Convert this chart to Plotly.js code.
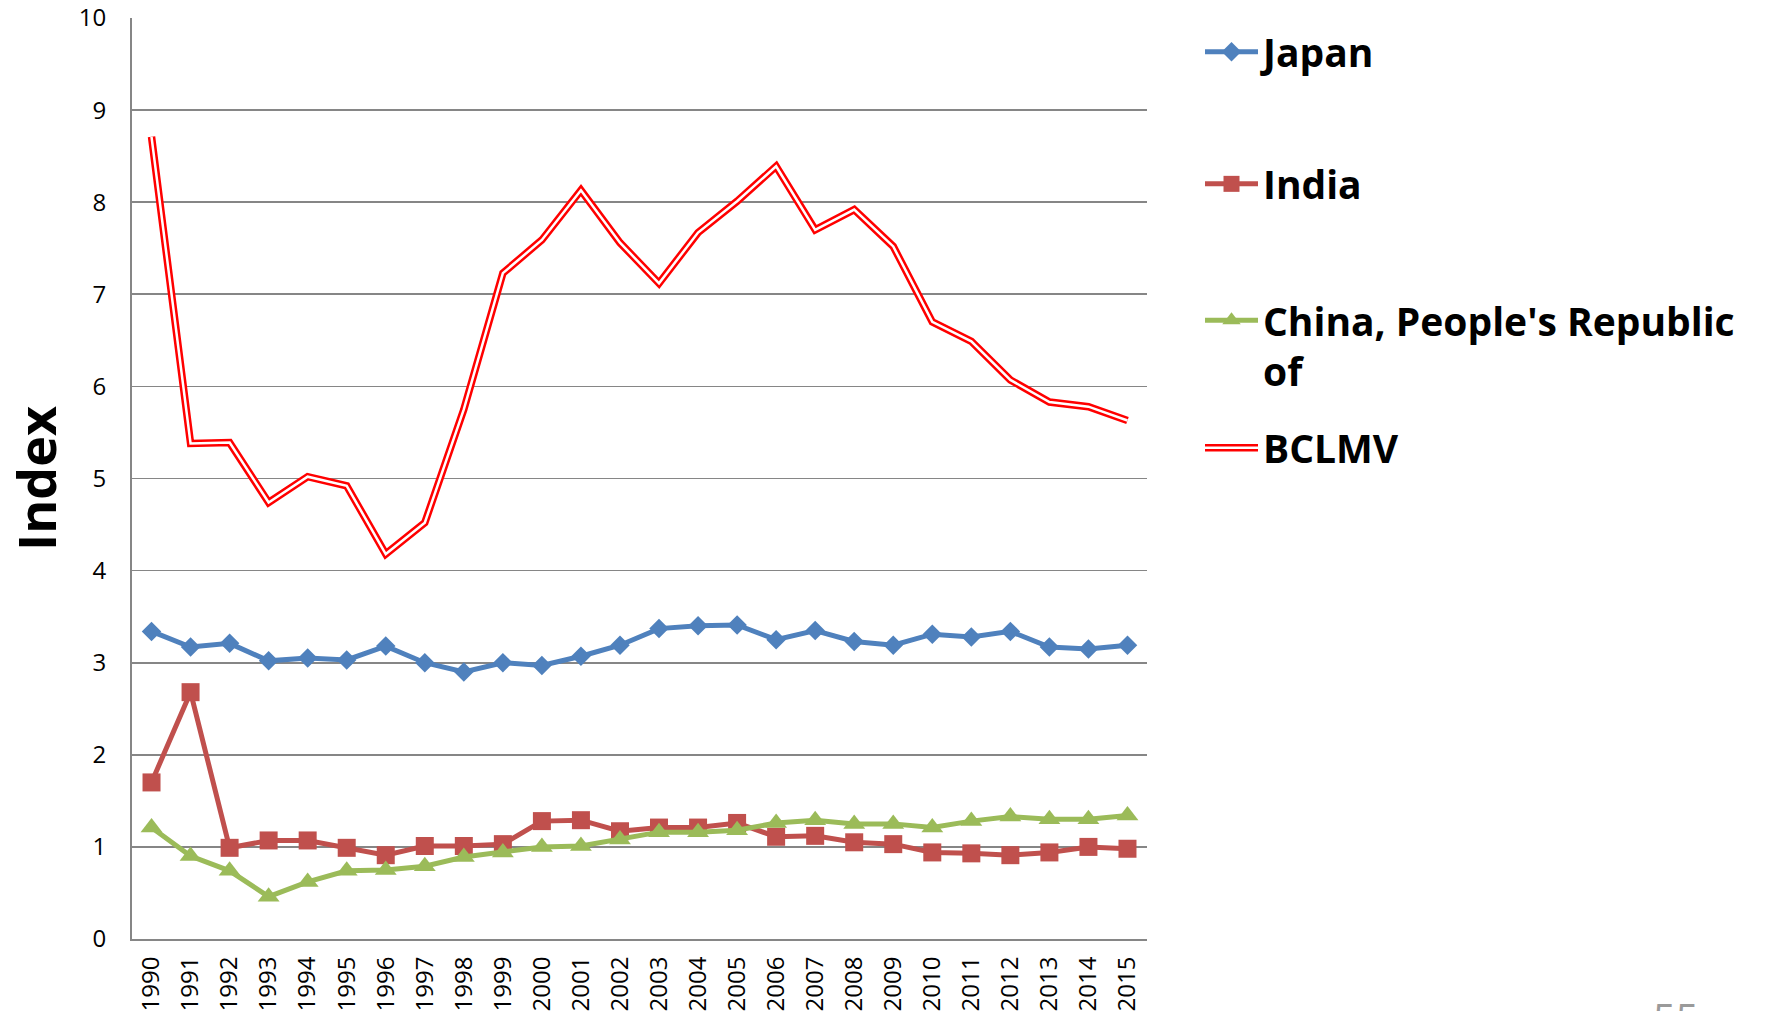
<!DOCTYPE html>
<html>
<head>
<meta charset="utf-8">
<script src="https://cdn.plot.ly/plotly-3.0.1.min.js"></script>
<style>
html,body{margin:0;padding:0;background:#fff;}
#chart{width:1769px;height:1011px;}
</style>
</head>
<body>
<div id="chart"></div>
<script>
// ---- data ----
const years = ["1990","1991","1992","1993","1994","1995","1996","1997","1998","1999","2000","2001","2002",
               "2003","2004","2005","2006","2007","2008","2009","2010","2011","2012","2013","2014","2015"];
const japan = [3.34,3.17,3.21,3.02,3.05,3.03,3.18,3.00,2.90,3.00,2.97,3.07,3.19,
               3.37,3.40,3.41,3.25,3.35,3.23,3.19,3.31,3.28,3.34,3.17,3.15,3.19];
const india = [1.70,2.68,0.99,1.07,1.07,0.99,0.91,1.01,1.01,1.03,1.28,1.29,1.17,
               1.21,1.21,1.26,1.11,1.12,1.05,1.03,0.94,0.93,0.91,0.94,1.00,0.98];
const china = [1.21,0.90,0.74,0.46,0.62,0.74,0.75,0.79,0.89,0.94,1.00,1.01,1.08,
               1.16,1.16,1.18,1.26,1.29,1.25,1.25,1.21,1.28,1.33,1.30,1.30,1.34];
const bclmv = [8.71,5.38,5.39,4.74,5.02,4.92,4.18,4.52,5.75,7.23,7.59,8.13,7.56,
               7.12,7.67,8.01,8.39,7.70,7.92,7.52,6.70,6.49,6.07,5.83,5.78,5.63];
const seriesNames = ["Japan","India","China, People's Republic<br>of","BCLMV"];
const yTicks = [0,1,2,3,4,5,6,7,8,9,10];
const yTitle = "Index";
const pageNumber = "55";

// ---- styling ----
const FONT = "'Open Sans', Lato, sans-serif";
const GRID = "#868686";
const legendFont = {family: FONT, size: 39, color: "#000", weight: 700};

const traces = [
  {x: years, y: japan, name: seriesNames[0], type: "scatter", mode: "lines+markers",
   line: {color: "#4F81BD", width: 5}, marker: {symbol: "diamond", size: 15, color: "#4F81BD"},
   legend: "legend"},
  {x: years, y: india, name: seriesNames[1], type: "scatter", mode: "lines+markers",
   line: {color: "#C0504D", width: 5}, marker: {symbol: "square", size: 18, color: "#C0504D"},
   legend: "legend2"},
  {x: years, y: china, name: seriesNames[2], type: "scatter", mode: "lines+markers",
   line: {color: "#9BBB59", width: 5}, marker: {symbol: "triangle-up", size: 19, color: "#9BBB59"},
   legend: "legend3"},
  {x: years, y: bclmv, name: seriesNames[3], type: "scatter", mode: "lines",
   line: {color: "#FF0000", width: 7.5}, legend: "legend4"},
  {x: years, y: bclmv, name: " ", type: "scatter", mode: "lines",
   line: {color: "#FFFFFF", width: 2.5}, legend: "legend5", hoverinfo: "skip"}
];

// plot area: x 132..1147, y 18..939
const PL = 132, PR = 1147, PT = 18, PB = 939;
function px2x(px){ return (px - PL) / (PR - PL); }
function py2y(py){ return (PB - py) / (PB - PT); }

const legBase = {font: legendFont, bgcolor: "rgba(0,0,0,0)", borderwidth: 0,
                 xanchor: "left", yanchor: "middle", itemwidth: 53, valign: "top",
                 itemclick: false, itemdoubleclick: false};
const LX = px2x(1200);

const layout = {
  width: 1769, height: 1011,
  paper_bgcolor: "#fff", plot_bgcolor: "#fff",
  margin: {l: PL, r: 1769 - PR, t: PT, b: 1011 - PB, autoexpand: false},
  font: {family: FONT, color: "#000"},
  showlegend: true,
  xaxis: {type: "category", range: [-0.5, 25.5], tickangle: -90,
          tickfont: {family: FONT, size: 24, color: "#000"},
          showline: true, linecolor: GRID, linewidth: 2, showgrid: false,
          ticks: "", zeroline: false, automargin: false, ticklabelstandoff: 6, fixedrange: true},
  yaxis: {range: [0, 10], tickvals: yTicks, ticktext: yTicks.map(String),
          tickfont: {family: FONT, size: 24, color: "#000"},
          showline: true, linecolor: GRID, linewidth: 2,
          showgrid: true, gridcolor: GRID, gridwidth: 1.6, zeroline: false,
          ticks: "", automargin: false, ticklabelstandoff: 19, fixedrange: true,
          title: {text: yTitle, font: {family: FONT, size: 52, color: "#000", weight: 700}, standoff: 20}},
  legend:  Object.assign({}, legBase, {x: LX, y: py2y(52)}),
  legend2: Object.assign({}, legBase, {x: LX, y: py2y(184)}),
  legend3: Object.assign({}, legBase, {x: LX, y: py2y(346)}),
  legend4: Object.assign({}, legBase, {x: LX, y: py2y(448)}),
  legend5: Object.assign({}, legBase, {x: LX, y: py2y(448)}),
  annotations: [
    {text: pageNumber, xref: "paper", yref: "paper", x: px2x(1676), y: py2y(988),
     xanchor: "center", yanchor: "top", showarrow: false,
     font: {family: FONT, size: 40, color: "#9a9a9a"}}
  ]
};

Plotly.newPlot("chart", traces, layout, {displayModeBar: false, staticPlot: true});
</script>
</body>
</html>
